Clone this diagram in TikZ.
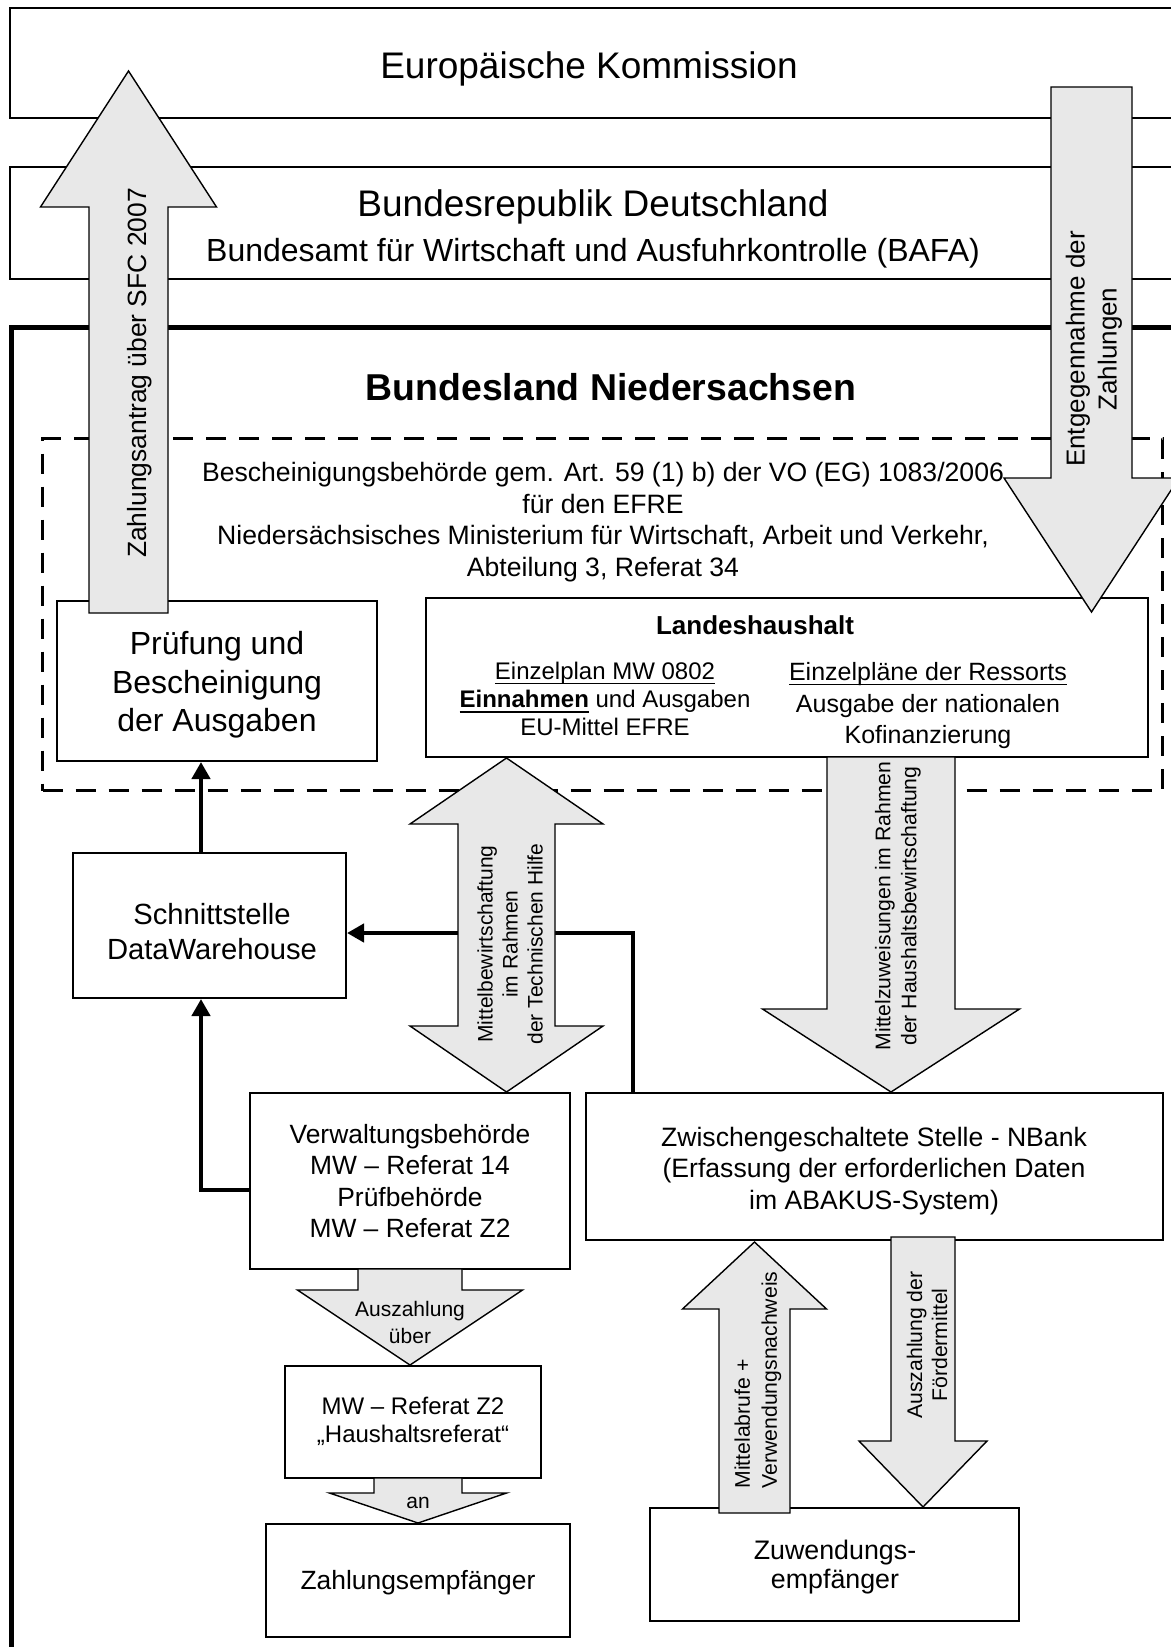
\documentclass[tikz,border=0pt]{standalone}
\usepackage{fontspec}
\setmainfont{Liberation Sans}
\usetikzlibrary{arrows.meta}
\newcommand\fsz[2]{\fontsize{#1pt}{#2pt}\selectfont}
\newcommand\ulthin[1]{\setbox0\hbox{#1}\leavevmode\rlap{\rule[-2.2pt]{\wd0}{0.6pt}}\box0\relax}
\newcommand\ulbold[1]{\setbox0\hbox{#1}\leavevmode\rlap{\rule[-2.8pt]{\wd0}{1.3pt}}\box0\relax}
% xc, ytail, ybase, ytip, shaft half width, head half width
\newcommand\vblock[6]{%
  \path[garrow] ({#1-#5},#2) -- ({#1-#5},#3) -- ({#1-#6},#3) -- (#1,#4) -- ({#1+#6},#3) -- ({#1+#5},#3) -- ({#1+#5},#2) -- cycle;}
\begin{document}
\begin{tikzpicture}[x=0.5pt,y=-0.5pt,
  box/.style={draw,line width=1pt,inner sep=0pt},
  band/.style={draw,line width=0.8pt,inner sep=0pt,anchor=north west},
  txt/.style={inner sep=0pt,align=center},
  conn/.style={line width=2.4pt,-{Triangle[length=8.5pt,width=9pt]}},
  garrow/.style={draw,line width=0.7pt,fill=black!9,line join=miter},
]
\useasboundingbox[fill=white] (0,0) rectangle (1171,1647);

% horizontal bands
\node[band,minimum width=600pt,minimum height=55pt] (ek) at (9,7) {};
\node[band,minimum width=600pt,minimum height=56pt] (brd) at (9,166) {};
\node[band,line width=2.5pt,minimum width=600pt,minimum height=700pt] (nds) at (9,325) {};
\node[band,line width=1.5pt,dash pattern=on 10pt off 6.5pt,minimum width=560pt,minimum height=176pt] (bsb) at (41,437) {};

% boxes
\node[box,minimum width=160pt,minimum height=80pt] (pruef) at (217,681) {};
\node[box,minimum width=361pt,minimum height=79.5pt] (lh) at (787,677.5) {};
\node[box,minimum width=136.5pt,minimum height=72.5pt] (schnitt) at (209.5,925.5) {};
\node[box,minimum width=160pt,minimum height=88pt] (verw) at (410,1181) {};
\node[box,minimum width=288.5pt,minimum height=73.5pt] (nbank) at (874.5,1166.5) {};
\node[box,minimum width=128pt,minimum height=56pt] (mwz) at (413,1422) {};
\node[box,minimum width=152pt,minimum height=56.5pt] (zahl) at (418,1580.5) {};
\node[box,minimum width=184.5pt,minimum height=56.5pt] (zuw) at (834.5,1564.5) {};

% connectors
\coordinate (cx) at (201,0);
\coordinate (cy) at (0,1190);
\coordinate (cz) at (633,0);
\coordinate (cw) at (0,933);
\draw[conn] (schnitt.north -| cx) -- (pruef.south -| cx);
\draw[conn] (verw.west |- cy) -| (schnitt.south -| cx);
\draw[conn] (nbank.north -| cz) |- (schnitt.east |- cw);

% grey block arrows
\vblock{128.5}{613}{207}{71}{39.5}{88}
\vblock{1091.5}{87}{478}{612}{40.5}{87.5}
\vblock{891}{757}{1009}{1092}{64}{128.5}
\vblock{754.5}{1513}{1309}{1242}{35.5}{72}
\vblock{923}{1237}{1441}{1507}{32}{64}
\vblock{410}{1269}{1290}{1365}{52}{112.5}
\vblock{418}{1478}{1493}{1523}{44}{88.5}
\path[garrow] (506.5,758) -- (603,824) -- (555,824) -- (555,1026) -- (603,1026) -- (506.5,1092)
  -- (410,1026) -- (458,1026) -- (458,824) -- (410,824) -- cycle;

% texts
\node[txt,font=\fsz{18.5}{22}] (ek-t) at (589,69) {Europäische Kommission};
\node[txt,font=\fsz{18.5}{22}] (brd-t) at (593,207) {Bundesrepublik Deutschland};
\node[txt,font=\fsz{16}{19}] (bafa-t) at (593,253) {Bundesamt für Wirtschaft und Ausfuhrkontrolle (BAFA)};
\node[txt,font=\fsz{18.7}{22}\bfseries] (nds-t) at (611,387) {Bundesland Niedersachsen};
\node[txt,font=\fsz{13.3}{15.8}] (bsb-t) at (603,522) {Bescheinigungsbehörde gem. Art. 59 (1) b) der VO (EG) 1083/2006\\für den EFRE\\Niedersächsisches Ministerium für Wirtschaft, Arbeit und Verkehr,\\Abteilung 3, Referat 34};
\node[txt,font=\fsz{16}{19.25}] (pruef-t) at (217,685) {Prüfung und\\Bescheinigung\\der Ausgaben};
\node[txt,font=\fsz{13}{15}\bfseries] (lh-t) at (755,625) {Landeshaushalt};
\node[txt,font=\fsz{12}{14}] (lh-l) at (605,699) {\ulthin{Einzelplan MW 0802}\\\ulbold{\bfseries Einnahmen} und Ausgaben\\EU-Mittel EFRE};
\node[txt,font=\fsz{12.5}{15.75}] (lh-r) at (928,706) {\ulthin{Einzelpläne der Ressorts}\\Ausgabe der nationalen\\Kofinanzierung};
\node[txt,font=\fsz{14.6}{17.5}] (schnitt-t) at (212,932) {Schnittstelle\\DataWarehouse};
\node[txt,font=\fsz{13.2}{15.8}] (verw-t) at (410,1181) {Verwaltungsbehörde\\MW – Referat 14\\Prüfbehörde\\MW – Referat Z2};
\node[txt,font=\fsz{13.3}{15.75}] (nbank-t) at (874,1171) {Zwischengeschaltete Stelle - NBank\\(Erfassung der erforderlichen Daten\\im ABAKUS-System)};
\node[txt,font=\fsz{12}{14}] (mwz-t) at (413,1421) {MW – Referat Z2\\„Haushaltsreferat“};
\node[txt,font=\fsz{13.2}{15}] (zahl-t) at (418,1583) {Zahlungsempfänger};
\node[txt,font=\fsz{13.4}{14.5}] (zuw-t) at (835,1567) {Zuwendungs-\\empfänger};

% arrow labels
\node[txt,rotate=90,font=\fsz{13.2}{15}] (a1-t) at (140,373) {Zahlungsantrag über SFC 2007};
\node[txt,rotate=90,font=\fsz{13}{16}] (a2-t) at (1094,349) {Entgegennahme der\\Zahlungen};
\node[txt,rotate=90,font=\fsz{10.5}{12.5}] (a3-t) at (510,944) {Mittelbewirtschaftung\\im Rahmen\\der Technischen Hilfe};
\node[txt,rotate=90,font=\fsz{10.6}{13}] (a4-t) at (898,906) {Mittelzuweisungen im Rahmen\\der Haushaltsbewirtschaftung};
\node[inner sep=0pt,align=left,rotate=90,font=\fsz{10.6}{13.5}] (a5-t) at (758,1380) {Mittelabrufe +\\Verwendungsnachweis};
\node[txt,rotate=90,font=\fsz{10.6}{12.5}] (a6-t) at (927,1345) {Auszahlung der\\Fördermittel};
\node[txt,font=\fsz{10.5}{13.5}] (a7-t) at (410,1322) {Auszahlung\\über};
\node[txt,font=\fsz{10.5}{12}] (a8-t) at (418,1503) {an};
\end{tikzpicture}
\end{document}
